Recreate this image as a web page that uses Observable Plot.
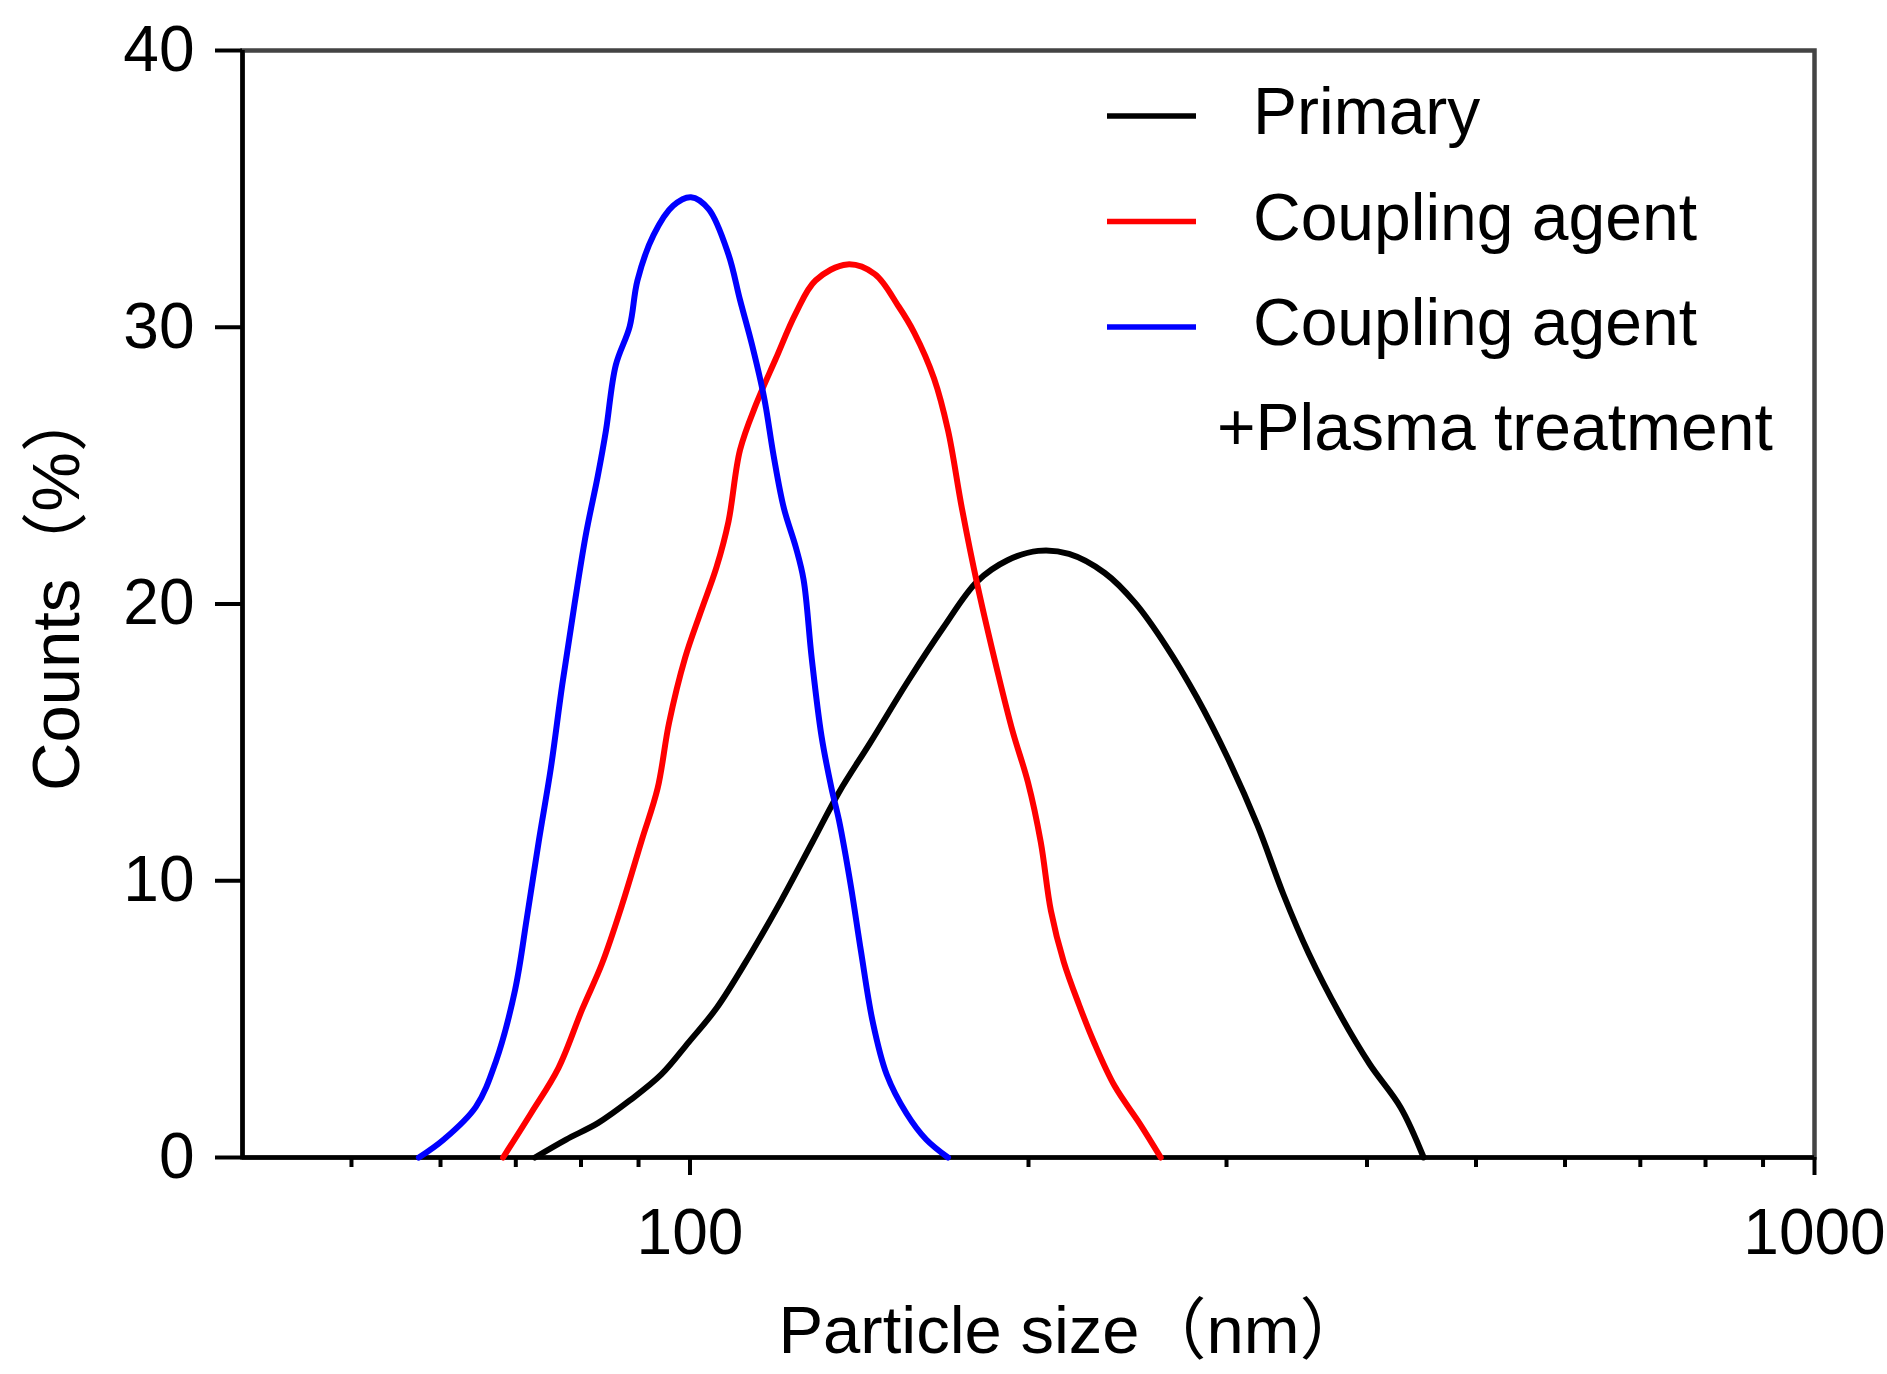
<!DOCTYPE html>
<html>
<head>
<meta charset="utf-8">
<script src="https://cdn.jsdelivr.net/npm/d3@7"></script>
<script src="https://cdn.jsdelivr.net/npm/@observablehq/plot@0.6"></script>
<style>
  html, body { margin: 0; padding: 0; background: #fff; }
  #chart svg { display: block; }
</style>
</head>
<body>
<div id="chart"></div>
<script>
// ---- Data ----
const primarySize  = [72.8, 77.6, 82.8, 88.4, 94.3, 99.8, 105.6, 113.0, 120.6, 128.5, 135.7, 144.7, 156.2, 168.0, 180.0, 191.6, 204.0, 217.3, 233.8, 248.9, 265.0, 282.2, 300.4, 319.7, 336.9, 355.0, 378.0, 402.4, 428.5, 449.2];
const primaryCount = [0, 0.65, 1.24, 2.06, 3.0, 4.18, 5.4, 7.3, 9.3, 11.4, 13.2, 15.0, 17.2, 19.15, 20.81, 21.58, 21.92, 21.81, 21.12, 20.03, 18.49, 16.64, 14.48, 12.0, 9.53, 7.37, 5.21, 3.36, 1.81, 0];

const couplingSize  = [68.2, 72.2, 76.4, 80.2, 83.5, 87.0, 90.6, 93.6, 95.8, 99.0, 102.2, 105.6, 108.2, 110.8, 114.5, 119.2, 124.2, 129.3, 138.0, 146.0, 153.3, 158.3, 164.8, 169.6, 174.5, 180.1, 187.7, 193.6, 199.8, 205.1, 209.4, 215.0, 221.8, 228.9, 238.6, 251.4, 262.2];
const couplingCount = [0, 1.59, 3.24, 5.36, 7.0, 9.12, 11.47, 13.35, 15.70, 18.05, 19.70, 21.34, 22.98, 25.57, 27.22, 28.86, 30.51, 31.69, 32.27, 31.92, 30.75, 29.80, 28.16, 26.28, 23.46, 20.7, 17.56, 15.40, 13.55, 11.39, 8.91, 7.06, 5.52, 4.13, 2.58, 1.20, 0];

const plasmaSize  = [57.4, 60.4, 64.5, 67.2, 69.9, 71.6, 73.4, 75.2, 77.0, 78.9, 80.8, 82.8, 84.2, 85.9, 88.4, 89.8, 92.8, 96.6, 100.2, 103.9, 108.2, 110.8, 113.6, 116.4, 118.7, 121.2, 124.2, 126.2, 128.3, 130.9, 133.6, 135.7, 139.0, 141.9, 145.4, 149.6, 155.8, 162.2, 169.6];
const plasmaCount = [0, 0.65, 1.83, 3.47, 6.06, 8.65, 11.47, 14.06, 17.11, 19.93, 22.51, 24.63, 26.28, 28.63, 30.04, 31.69, 33.33, 34.39, 34.70, 34.27, 32.63, 30.98, 29.33, 27.45, 25.34, 23.46, 22.05, 20.87, 18.05, 15.23, 13.35, 12.17, 9.82, 7.47, 4.89, 3.0, 1.59, 0.65, 0];

const seriesNames  = ["Primary", "Coupling agent", "Coupling agent +Plasma treatment"];
const legendLabels = [["Primary"], ["Coupling agent"], ["Coupling agent", "+Plasma treatment"]];
const seriesColors = ["#000000", "#ff0000", "#0000ff"];

const xMajorTicks = [100, 1000];
const xMinorTicks = [50, 60, 70, 80, 90, 200, 300, 400, 500, 600, 700, 800, 900];
const yTicks = [0, 10, 20, 30, 40];
const xDomain = [40, 1000];
const yDomain = [0, 40];
const xTitle = "Particle size（nm）";
const yTitle = "Counts（%）";

// ---- Build table ----
const seriesData = [[primarySize, primaryCount], [couplingSize, couplingCount], [plasmaSize, plasmaCount]];
const rows = [];
seriesData.forEach(([sizes, counts], i) => {
  sizes.forEach((s, j) => rows.push({series: seriesNames[i], size: s, count: counts[j]}));
});

const font = '"Liberation Sans", Arial, "Noto Sans CJK SC", sans-serif';

const chart = Plot.plot({
  width: 1887,
  height: 1374,
  marginLeft: 242,
  marginRight: 73,
  marginTop: 50,
  marginBottom: 217,
  style: {fontFamily: font, fontSize: "64px", color: "#000", background: "#fff", overflow: "visible"},
  x: {type: "log", domain: xDomain},
  y: {domain: yDomain},
  color: {domain: seriesNames, range: seriesColors},
  marks: [
    Plot.frame({stroke: "#444", strokeWidth: 4.5}),
    Plot.axisX(xMinorTicks, {tickSize: 10, fill: "none", strokeWidth: 4, label: null}),
    Plot.axisX(xMajorTicks, {tickSize: 18, tickPadding: 33, strokeWidth: 4, fontSize: 64, tickFormat: d => String(d), label: null}),
    Plot.axisY(yTicks, {tickSize: 27, tickPadding: 21, strokeWidth: 4, fontSize: 64, label: null}),
    Plot.ruleY([yDomain[0]], {stroke: "#000", strokeWidth: 4.5}),
    Plot.ruleX([xDomain[0]], {stroke: "#000", strokeWidth: 4.5}),
    Plot.line(rows, {x: "size", y: "count", z: "series", stroke: "series", strokeWidth: 6, curve: "catmull-rom"}),
    Plot.text([xTitle], {frameAnchor: "bottom", textAnchor: "middle", dx: 44, dy: 195, lineAnchor: "bottom", fontSize: 67, fill: "#000"}),
    Plot.text([yTitle], {frameAnchor: "left", textAnchor: "middle", rotate: -90, dx: -164, dy: -16, lineAnchor: "bottom", fontSize: 67, fill: "#000"})
  ]
});

// ---- Legend (inside the plot, no box) ----
const svg = d3.select(chart);
const lg = svg.append("g")
  .attr("font-family", font)
  .attr("font-size", 66)
  .attr("fill", "#000")
  .attr("text-anchor", "start");
const lineX1 = 1107, lineX2 = 1196, textX = 1253, firstLineY = 116, rowStep = 105.5;
legendLabels.forEach((labels, i) => {
  const ly = firstLineY + i * rowStep;
  lg.append("line")
    .attr("x1", lineX1).attr("x2", lineX2)
    .attr("y1", ly).attr("y2", ly)
    .attr("stroke", seriesColors[i]).attr("stroke-width", 5.5);
  labels.forEach((t, k) => {
    lg.append("text")
      .attr("x", k === 0 ? textX : textX - 36)
      .attr("y", ly + 18 + k * 105)
      .text(t);
  });
});

document.getElementById("chart").appendChild(chart);
</script>
</body>
</html>
